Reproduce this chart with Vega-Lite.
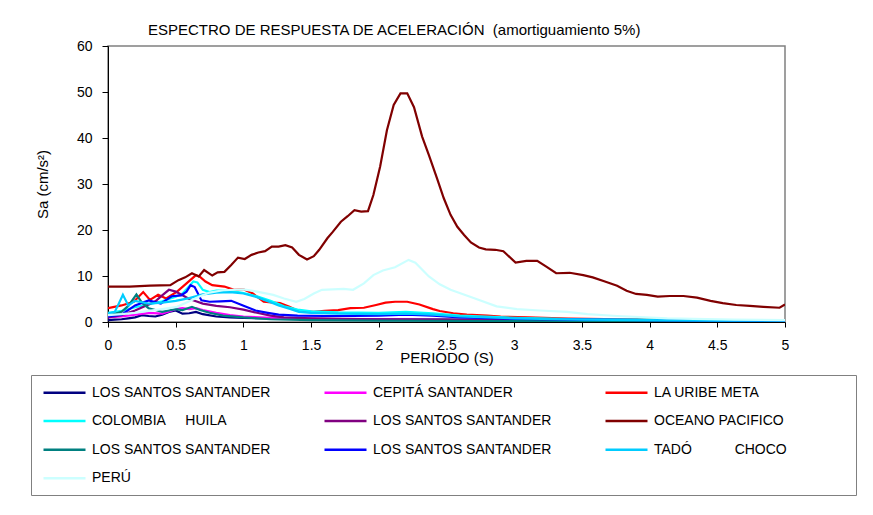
{
"$schema": "https://vega.github.io/schema/vega-lite/v6.json",
"width": 677, "height": 276,
"autosize": {"type": "none"},
"padding": {"left": 108, "top": 46, "right": 88, "bottom": 193},
"background": "white",
"title": {"text": "ESPECTRO DE RESPUESTA DE ACELERACIÓN\u00a0\u00a0(amortiguamiento 5%)", "anchor": "start", "frame": "group", "dx": 40, "offset": 1, "fontSize": 15, "font": "Liberation Sans", "fontWeight": "normal", "color": "black"},
"config": {"view": {"stroke": "#808080", "strokeWidth": 1.5}, "font": "Liberation Sans"},
"data": {"values": [
{"serie":"01 LOS SANTOS SANTANDER","T":0,"Sa":0.4},{"serie":"01 LOS SANTOS SANTANDER","T":0.05,"Sa":0.5},{"serie":"01 LOS SANTOS SANTANDER","T":0.1,"Sa":0.6},{"serie":"01 LOS SANTOS SANTANDER","T":0.15,"Sa":0.8},{"serie":"01 LOS SANTOS SANTANDER","T":0.2,"Sa":1.0},{"serie":"01 LOS SANTOS SANTANDER","T":0.25,"Sa":1.5},{"serie":"01 LOS SANTOS SANTANDER","T":0.3,"Sa":1.3},{"serie":"01 LOS SANTOS SANTANDER","T":0.35,"Sa":1.2},{"serie":"01 LOS SANTOS SANTANDER","T":0.4,"Sa":1.6},{"serie":"01 LOS SANTOS SANTANDER","T":0.45,"Sa":2.2},{"serie":"01 LOS SANTOS SANTANDER","T":0.5,"Sa":2.5},{"serie":"01 LOS SANTOS SANTANDER","T":0.55,"Sa":1.8},{"serie":"01 LOS SANTOS SANTANDER","T":0.6,"Sa":1.9},{"serie":"01 LOS SANTOS SANTANDER","T":0.65,"Sa":2.2},{"serie":"01 LOS SANTOS SANTANDER","T":0.7,"Sa":1.7},{"serie":"01 LOS SANTOS SANTANDER","T":0.8,"Sa":1.2},{"serie":"01 LOS SANTOS SANTANDER","T":0.9,"Sa":1.0},{"serie":"01 LOS SANTOS SANTANDER","T":1.0,"Sa":0.9},{"serie":"01 LOS SANTOS SANTANDER","T":1.2,"Sa":0.8},{"serie":"01 LOS SANTOS SANTANDER","T":1.5,"Sa":0.7},{"serie":"01 LOS SANTOS SANTANDER","T":2.0,"Sa":0.6},{"serie":"01 LOS SANTOS SANTANDER","T":2.5,"Sa":0.5},{"serie":"01 LOS SANTOS SANTANDER","T":3.0,"Sa":0.4},{"serie":"01 LOS SANTOS SANTANDER","T":3.5,"Sa":0.3},{"serie":"01 LOS SANTOS SANTANDER","T":4.0,"Sa":0.25},{"serie":"01 LOS SANTOS SANTANDER","T":4.5,"Sa":0.2},{"serie":"01 LOS SANTOS SANTANDER","T":5.0,"Sa":0.2},
{"serie":"02 CEPITÁ SANTANDER","T":0,"Sa":1.0},{"serie":"02 CEPITÁ SANTANDER","T":0.1,"Sa":1.2},{"serie":"02 CEPITÁ SANTANDER","T":0.2,"Sa":1.6},{"serie":"02 CEPITÁ SANTANDER","T":0.3,"Sa":2.0},{"serie":"02 CEPITÁ SANTANDER","T":0.4,"Sa":1.8},{"serie":"02 CEPITÁ SANTANDER","T":0.45,"Sa":2.3},{"serie":"02 CEPITÁ SANTANDER","T":0.5,"Sa":2.8},{"serie":"02 CEPITÁ SANTANDER","T":0.55,"Sa":3.0},{"serie":"02 CEPITÁ SANTANDER","T":0.6,"Sa":2.8},{"serie":"02 CEPITÁ SANTANDER","T":0.65,"Sa":3.0},{"serie":"02 CEPITÁ SANTANDER","T":0.7,"Sa":2.6},{"serie":"02 CEPITÁ SANTANDER","T":0.8,"Sa":2.0},{"serie":"02 CEPITÁ SANTANDER","T":0.9,"Sa":1.5},{"serie":"02 CEPITÁ SANTANDER","T":1.0,"Sa":1.2},{"serie":"02 CEPITÁ SANTANDER","T":1.2,"Sa":0.9},{"serie":"02 CEPITÁ SANTANDER","T":1.5,"Sa":0.7},{"serie":"02 CEPITÁ SANTANDER","T":2.0,"Sa":0.5},{"serie":"02 CEPITÁ SANTANDER","T":2.5,"Sa":0.4},{"serie":"02 CEPITÁ SANTANDER","T":3.0,"Sa":0.3},{"serie":"02 CEPITÁ SANTANDER","T":4.0,"Sa":0.2},{"serie":"02 CEPITÁ SANTANDER","T":5.0,"Sa":0.15},
{"serie":"03 LA URIBE META","T":0,"Sa":3.0},{"serie":"03 LA URIBE META","T":0.1,"Sa":3.6},{"serie":"03 LA URIBE META","T":0.19,"Sa":4.4},{"serie":"03 LA URIBE META","T":0.26,"Sa":6.5},{"serie":"03 LA URIBE META","T":0.31,"Sa":4.8},{"serie":"03 LA URIBE META","T":0.37,"Sa":5.9},{"serie":"03 LA URIBE META","T":0.43,"Sa":5.1},{"serie":"03 LA URIBE META","T":0.51,"Sa":6.6},{"serie":"03 LA URIBE META","T":0.58,"Sa":8.4},{"serie":"03 LA URIBE META","T":0.65,"Sa":10.2},{"serie":"03 LA URIBE META","T":0.68,"Sa":9.8},{"serie":"03 LA URIBE META","T":0.72,"Sa":8.8},{"serie":"03 LA URIBE META","T":0.77,"Sa":8.0},{"serie":"03 LA URIBE META","T":0.86,"Sa":7.7},{"serie":"03 LA URIBE META","T":0.93,"Sa":7.0},{"serie":"03 LA URIBE META","T":1.0,"Sa":7.1},{"serie":"03 LA URIBE META","T":1.07,"Sa":6.2},{"serie":"03 LA URIBE META","T":1.15,"Sa":4.4},{"serie":"03 LA URIBE META","T":1.27,"Sa":4.1},{"serie":"03 LA URIBE META","T":1.34,"Sa":3.3},{"serie":"03 LA URIBE META","T":1.39,"Sa":2.6},{"serie":"03 LA URIBE META","T":1.45,"Sa":2.3},{"serie":"03 LA URIBE META","T":1.52,"Sa":2.2},{"serie":"03 LA URIBE META","T":1.6,"Sa":2.4},{"serie":"03 LA URIBE META","T":1.7,"Sa":2.6},{"serie":"03 LA URIBE META","T":1.79,"Sa":3.0},{"serie":"03 LA URIBE META","T":1.89,"Sa":3.1},{"serie":"03 LA URIBE META","T":1.98,"Sa":3.7},{"serie":"03 LA URIBE META","T":2.05,"Sa":4.2},{"serie":"03 LA URIBE META","T":2.12,"Sa":4.4},{"serie":"03 LA URIBE META","T":2.21,"Sa":4.4},{"serie":"03 LA URIBE META","T":2.3,"Sa":3.8},{"serie":"03 LA URIBE META","T":2.4,"Sa":2.8},{"serie":"03 LA URIBE META","T":2.45,"Sa":2.4},{"serie":"03 LA URIBE META","T":2.55,"Sa":1.9},{"serie":"03 LA URIBE META","T":2.65,"Sa":1.6},{"serie":"03 LA URIBE META","T":2.8,"Sa":1.4},{"serie":"03 LA URIBE META","T":2.9,"Sa":1.2},{"serie":"03 LA URIBE META","T":3.1,"Sa":1.0},{"serie":"03 LA URIBE META","T":3.4,"Sa":0.75},{"serie":"03 LA URIBE META","T":3.8,"Sa":0.6},{"serie":"03 LA URIBE META","T":4.13,"Sa":0.45},{"serie":"03 LA URIBE META","T":4.5,"Sa":0.4},{"serie":"03 LA URIBE META","T":5.0,"Sa":0.35},
{"serie":"04 COLOMBIA\u00a0\u00a0\u00a0\u00a0\u00a0HUILA","T":0,"Sa":2.0},{"serie":"04 COLOMBIA\u00a0\u00a0\u00a0\u00a0\u00a0HUILA","T":0.1,"Sa":2.4},{"serie":"04 COLOMBIA\u00a0\u00a0\u00a0\u00a0\u00a0HUILA","T":0.2,"Sa":3.2},{"serie":"04 COLOMBIA\u00a0\u00a0\u00a0\u00a0\u00a0HUILA","T":0.3,"Sa":3.8},{"serie":"04 COLOMBIA\u00a0\u00a0\u00a0\u00a0\u00a0HUILA","T":0.4,"Sa":4.5},{"serie":"04 COLOMBIA\u00a0\u00a0\u00a0\u00a0\u00a0HUILA","T":0.5,"Sa":5.5},{"serie":"04 COLOMBIA\u00a0\u00a0\u00a0\u00a0\u00a0HUILA","T":0.55,"Sa":6.2},{"serie":"04 COLOMBIA\u00a0\u00a0\u00a0\u00a0\u00a0HUILA","T":0.6,"Sa":7.8},{"serie":"04 COLOMBIA\u00a0\u00a0\u00a0\u00a0\u00a0HUILA","T":0.63,"Sa":8.8},{"serie":"04 COLOMBIA\u00a0\u00a0\u00a0\u00a0\u00a0HUILA","T":0.66,"Sa":8.6},{"serie":"04 COLOMBIA\u00a0\u00a0\u00a0\u00a0\u00a0HUILA","T":0.7,"Sa":7.0},{"serie":"04 COLOMBIA\u00a0\u00a0\u00a0\u00a0\u00a0HUILA","T":0.75,"Sa":6.5},{"serie":"04 COLOMBIA\u00a0\u00a0\u00a0\u00a0\u00a0HUILA","T":0.8,"Sa":6.8},{"serie":"04 COLOMBIA\u00a0\u00a0\u00a0\u00a0\u00a0HUILA","T":0.9,"Sa":6.8},{"serie":"04 COLOMBIA\u00a0\u00a0\u00a0\u00a0\u00a0HUILA","T":1.0,"Sa":6.3},{"serie":"04 COLOMBIA\u00a0\u00a0\u00a0\u00a0\u00a0HUILA","T":1.1,"Sa":5.6},{"serie":"04 COLOMBIA\u00a0\u00a0\u00a0\u00a0\u00a0HUILA","T":1.2,"Sa":4.6},{"serie":"04 COLOMBIA\u00a0\u00a0\u00a0\u00a0\u00a0HUILA","T":1.3,"Sa":3.4},{"serie":"04 COLOMBIA\u00a0\u00a0\u00a0\u00a0\u00a0HUILA","T":1.4,"Sa":2.7},{"serie":"04 COLOMBIA\u00a0\u00a0\u00a0\u00a0\u00a0HUILA","T":1.5,"Sa":2.3},{"serie":"04 COLOMBIA\u00a0\u00a0\u00a0\u00a0\u00a0HUILA","T":1.7,"Sa":2.1},{"serie":"04 COLOMBIA\u00a0\u00a0\u00a0\u00a0\u00a0HUILA","T":2.0,"Sa":2.0},{"serie":"04 COLOMBIA\u00a0\u00a0\u00a0\u00a0\u00a0HUILA","T":2.2,"Sa":2.2},{"serie":"04 COLOMBIA\u00a0\u00a0\u00a0\u00a0\u00a0HUILA","T":2.4,"Sa":1.9},{"serie":"04 COLOMBIA\u00a0\u00a0\u00a0\u00a0\u00a0HUILA","T":2.6,"Sa":1.4},{"serie":"04 COLOMBIA\u00a0\u00a0\u00a0\u00a0\u00a0HUILA","T":3.0,"Sa":0.9},{"serie":"04 COLOMBIA\u00a0\u00a0\u00a0\u00a0\u00a0HUILA","T":3.5,"Sa":0.6},{"serie":"04 COLOMBIA\u00a0\u00a0\u00a0\u00a0\u00a0HUILA","T":4.0,"Sa":0.5},{"serie":"04 COLOMBIA\u00a0\u00a0\u00a0\u00a0\u00a0HUILA","T":4.5,"Sa":0.4},{"serie":"04 COLOMBIA\u00a0\u00a0\u00a0\u00a0\u00a0HUILA","T":5.0,"Sa":0.35},
{"serie":"05 LOS SANTOS SANTANDER","T":0,"Sa":1.0},{"serie":"05 LOS SANTOS SANTANDER","T":0.1,"Sa":1.5},{"serie":"05 LOS SANTOS SANTANDER","T":0.2,"Sa":2.5},{"serie":"05 LOS SANTOS SANTANDER","T":0.3,"Sa":3.8},{"serie":"05 LOS SANTOS SANTANDER","T":0.35,"Sa":4.5},{"serie":"05 LOS SANTOS SANTANDER","T":0.4,"Sa":5.8},{"serie":"05 LOS SANTOS SANTANDER","T":0.45,"Sa":7.0},{"serie":"05 LOS SANTOS SANTANDER","T":0.5,"Sa":6.6},{"serie":"05 LOS SANTOS SANTANDER","T":0.55,"Sa":5.8},{"serie":"05 LOS SANTOS SANTANDER","T":0.6,"Sa":5.0},{"serie":"05 LOS SANTOS SANTANDER","T":0.65,"Sa":4.5},{"serie":"05 LOS SANTOS SANTANDER","T":0.7,"Sa":4.0},{"serie":"05 LOS SANTOS SANTANDER","T":0.8,"Sa":3.5},{"serie":"05 LOS SANTOS SANTANDER","T":0.9,"Sa":3.2},{"serie":"05 LOS SANTOS SANTANDER","T":1.0,"Sa":2.7},{"serie":"05 LOS SANTOS SANTANDER","T":1.1,"Sa":2.0},{"serie":"05 LOS SANTOS SANTANDER","T":1.2,"Sa":1.4},{"serie":"05 LOS SANTOS SANTANDER","T":1.3,"Sa":1.0},{"serie":"05 LOS SANTOS SANTANDER","T":1.5,"Sa":0.8},{"serie":"05 LOS SANTOS SANTANDER","T":2.0,"Sa":0.6},{"serie":"05 LOS SANTOS SANTANDER","T":2.5,"Sa":0.5},{"serie":"05 LOS SANTOS SANTANDER","T":3.0,"Sa":0.35},{"serie":"05 LOS SANTOS SANTANDER","T":4.0,"Sa":0.25},{"serie":"05 LOS SANTOS SANTANDER","T":5.0,"Sa":0.2},
{"serie":"06 OCEANO PACIFICO","T":0,"Sa":7.7},{"serie":"06 OCEANO PACIFICO","T":0.16,"Sa":7.7},{"serie":"06 OCEANO PACIFICO","T":0.31,"Sa":7.9},{"serie":"06 OCEANO PACIFICO","T":0.46,"Sa":8.0},{"serie":"06 OCEANO PACIFICO","T":0.52,"Sa":9.1},{"serie":"06 OCEANO PACIFICO","T":0.57,"Sa":9.7},{"serie":"06 OCEANO PACIFICO","T":0.62,"Sa":10.6},{"serie":"06 OCEANO PACIFICO","T":0.67,"Sa":9.9},{"serie":"06 OCEANO PACIFICO","T":0.71,"Sa":11.3},{"serie":"06 OCEANO PACIFICO","T":0.77,"Sa":10.1},{"serie":"06 OCEANO PACIFICO","T":0.81,"Sa":10.8},{"serie":"06 OCEANO PACIFICO","T":0.86,"Sa":10.9},{"serie":"06 OCEANO PACIFICO","T":0.91,"Sa":12.4},{"serie":"06 OCEANO PACIFICO","T":0.96,"Sa":14.0},{"serie":"06 OCEANO PACIFICO","T":1.01,"Sa":13.7},{"serie":"06 OCEANO PACIFICO","T":1.06,"Sa":14.6},{"serie":"06 OCEANO PACIFICO","T":1.11,"Sa":15.1},{"serie":"06 OCEANO PACIFICO","T":1.16,"Sa":15.4},{"serie":"06 OCEANO PACIFICO","T":1.21,"Sa":16.4},{"serie":"06 OCEANO PACIFICO","T":1.26,"Sa":16.4},{"serie":"06 OCEANO PACIFICO","T":1.31,"Sa":16.7},{"serie":"06 OCEANO PACIFICO","T":1.36,"Sa":16.2},{"serie":"06 OCEANO PACIFICO","T":1.41,"Sa":14.6},{"serie":"06 OCEANO PACIFICO","T":1.47,"Sa":13.6},{"serie":"06 OCEANO PACIFICO","T":1.52,"Sa":14.3},{"serie":"06 OCEANO PACIFICO","T":1.56,"Sa":15.7},{"serie":"06 OCEANO PACIFICO","T":1.62,"Sa":18.2},{"serie":"06 OCEANO PACIFICO","T":1.66,"Sa":19.6},{"serie":"06 OCEANO PACIFICO","T":1.72,"Sa":21.8},{"serie":"06 OCEANO PACIFICO","T":1.77,"Sa":23.0},{"serie":"06 OCEANO PACIFICO","T":1.82,"Sa":24.3},{"serie":"06 OCEANO PACIFICO","T":1.87,"Sa":24.0},{"serie":"06 OCEANO PACIFICO","T":1.92,"Sa":24.1},{"serie":"06 OCEANO PACIFICO","T":1.96,"Sa":27.6},{"serie":"06 OCEANO PACIFICO","T":2.01,"Sa":33.8},{"serie":"06 OCEANO PACIFICO","T":2.06,"Sa":41.7},{"serie":"06 OCEANO PACIFICO","T":2.11,"Sa":47.2},{"serie":"06 OCEANO PACIFICO","T":2.16,"Sa":49.7},{"serie":"06 OCEANO PACIFICO","T":2.21,"Sa":49.7},{"serie":"06 OCEANO PACIFICO","T":2.26,"Sa":46.7},{"serie":"06 OCEANO PACIFICO","T":2.32,"Sa":40.3},{"serie":"06 OCEANO PACIFICO","T":2.37,"Sa":36.3},{"serie":"06 OCEANO PACIFICO","T":2.43,"Sa":31.2},{"serie":"06 OCEANO PACIFICO","T":2.48,"Sa":26.9},{"serie":"06 OCEANO PACIFICO","T":2.53,"Sa":23.3},{"serie":"06 OCEANO PACIFICO","T":2.58,"Sa":20.7},{"serie":"06 OCEANO PACIFICO","T":2.63,"Sa":18.9},{"serie":"06 OCEANO PACIFICO","T":2.68,"Sa":17.3},{"serie":"06 OCEANO PACIFICO","T":2.74,"Sa":16.2},{"serie":"06 OCEANO PACIFICO","T":2.79,"Sa":15.8},{"serie":"06 OCEANO PACIFICO","T":2.86,"Sa":15.7},{"serie":"06 OCEANO PACIFICO","T":2.92,"Sa":15.4},{"serie":"06 OCEANO PACIFICO","T":3.01,"Sa":12.9},{"serie":"06 OCEANO PACIFICO","T":3.09,"Sa":13.3},{"serie":"06 OCEANO PACIFICO","T":3.17,"Sa":13.3},{"serie":"06 OCEANO PACIFICO","T":3.24,"Sa":12.0},{"serie":"06 OCEANO PACIFICO","T":3.31,"Sa":10.6},{"serie":"06 OCEANO PACIFICO","T":3.41,"Sa":10.7},{"serie":"06 OCEANO PACIFICO","T":3.51,"Sa":10.2},{"serie":"06 OCEANO PACIFICO","T":3.58,"Sa":9.7},{"serie":"06 OCEANO PACIFICO","T":3.67,"Sa":8.8},{"serie":"06 OCEANO PACIFICO","T":3.76,"Sa":7.9},{"serie":"06 OCEANO PACIFICO","T":3.83,"Sa":6.8},{"serie":"06 OCEANO PACIFICO","T":3.9,"Sa":6.1},{"serie":"06 OCEANO PACIFICO","T":3.98,"Sa":5.9},{"serie":"06 OCEANO PACIFICO","T":4.06,"Sa":5.5},{"serie":"06 OCEANO PACIFICO","T":4.15,"Sa":5.65},{"serie":"06 OCEANO PACIFICO","T":4.25,"Sa":5.65},{"serie":"06 OCEANO PACIFICO","T":4.35,"Sa":5.3},{"serie":"06 OCEANO PACIFICO","T":4.45,"Sa":4.6},{"serie":"06 OCEANO PACIFICO","T":4.54,"Sa":4.1},{"serie":"06 OCEANO PACIFICO","T":4.64,"Sa":3.7},{"serie":"06 OCEANO PACIFICO","T":4.74,"Sa":3.5},{"serie":"06 OCEANO PACIFICO","T":4.84,"Sa":3.3},{"serie":"06 OCEANO PACIFICO","T":4.96,"Sa":3.1},{"serie":"06 OCEANO PACIFICO","T":5.0,"Sa":3.8},
{"serie":"07 LOS SANTOS SANTANDER","T":0,"Sa":1.5},{"serie":"07 LOS SANTOS SANTANDER","T":0.05,"Sa":1.8},{"serie":"07 LOS SANTOS SANTANDER","T":0.1,"Sa":2.2},{"serie":"07 LOS SANTOS SANTANDER","T":0.15,"Sa":3.5},{"serie":"07 LOS SANTOS SANTANDER","T":0.21,"Sa":6.0},{"serie":"07 LOS SANTOS SANTANDER","T":0.25,"Sa":4.2},{"serie":"07 LOS SANTOS SANTANDER","T":0.3,"Sa":3.0},{"serie":"07 LOS SANTOS SANTANDER","T":0.35,"Sa":2.6},{"serie":"07 LOS SANTOS SANTANDER","T":0.4,"Sa":2.2},{"serie":"07 LOS SANTOS SANTANDER","T":0.45,"Sa":2.5},{"serie":"07 LOS SANTOS SANTANDER","T":0.5,"Sa":2.8},{"serie":"07 LOS SANTOS SANTANDER","T":0.55,"Sa":2.6},{"serie":"07 LOS SANTOS SANTANDER","T":0.62,"Sa":3.3},{"serie":"07 LOS SANTOS SANTANDER","T":0.68,"Sa":2.6},{"serie":"07 LOS SANTOS SANTANDER","T":0.75,"Sa":2.0},{"serie":"07 LOS SANTOS SANTANDER","T":0.85,"Sa":1.4},{"serie":"07 LOS SANTOS SANTANDER","T":1.0,"Sa":1.0},{"serie":"07 LOS SANTOS SANTANDER","T":1.2,"Sa":0.6},{"serie":"07 LOS SANTOS SANTANDER","T":1.5,"Sa":0.4},{"serie":"07 LOS SANTOS SANTANDER","T":2.0,"Sa":0.3},{"serie":"07 LOS SANTOS SANTANDER","T":3.0,"Sa":0.2},{"serie":"07 LOS SANTOS SANTANDER","T":4.0,"Sa":0.15},{"serie":"07 LOS SANTOS SANTANDER","T":5.0,"Sa":0.1},
{"serie":"08 LOS SANTOS SANTANDER","T":0,"Sa":1.2},{"serie":"08 LOS SANTOS SANTANDER","T":0.1,"Sa":1.6},{"serie":"08 LOS SANTOS SANTANDER","T":0.2,"Sa":3.6},{"serie":"08 LOS SANTOS SANTANDER","T":0.3,"Sa":4.7},{"serie":"08 LOS SANTOS SANTANDER","T":0.39,"Sa":4.0},{"serie":"08 LOS SANTOS SANTANDER","T":0.47,"Sa":5.6},{"serie":"08 LOS SANTOS SANTANDER","T":0.54,"Sa":5.8},{"serie":"08 LOS SANTOS SANTANDER","T":0.58,"Sa":6.6},{"serie":"08 LOS SANTOS SANTANDER","T":0.61,"Sa":8.0},{"serie":"08 LOS SANTOS SANTANDER","T":0.64,"Sa":7.6},{"serie":"08 LOS SANTOS SANTANDER","T":0.69,"Sa":4.7},{"serie":"08 LOS SANTOS SANTANDER","T":0.75,"Sa":4.4},{"serie":"08 LOS SANTOS SANTANDER","T":0.83,"Sa":4.5},{"serie":"08 LOS SANTOS SANTANDER","T":0.91,"Sa":4.6},{"serie":"08 LOS SANTOS SANTANDER","T":1.02,"Sa":3.3},{"serie":"08 LOS SANTOS SANTANDER","T":1.09,"Sa":2.5},{"serie":"08 LOS SANTOS SANTANDER","T":1.18,"Sa":2.0},{"serie":"08 LOS SANTOS SANTANDER","T":1.26,"Sa":1.6},{"serie":"08 LOS SANTOS SANTANDER","T":1.4,"Sa":1.4},{"serie":"08 LOS SANTOS SANTANDER","T":1.6,"Sa":1.3},{"serie":"08 LOS SANTOS SANTANDER","T":1.8,"Sa":1.3},{"serie":"08 LOS SANTOS SANTANDER","T":2.0,"Sa":1.4},{"serie":"08 LOS SANTOS SANTANDER","T":2.2,"Sa":1.6},{"serie":"08 LOS SANTOS SANTANDER","T":2.4,"Sa":1.4},{"serie":"08 LOS SANTOS SANTANDER","T":2.6,"Sa":1.0},{"serie":"08 LOS SANTOS SANTANDER","T":3.0,"Sa":0.7},{"serie":"08 LOS SANTOS SANTANDER","T":3.5,"Sa":0.5},{"serie":"08 LOS SANTOS SANTANDER","T":4.0,"Sa":0.4},{"serie":"08 LOS SANTOS SANTANDER","T":4.5,"Sa":0.3},{"serie":"08 LOS SANTOS SANTANDER","T":5.0,"Sa":0.25},
{"serie":"09 TADÓ\u00a0\u00a0\u00a0\u00a0\u00a0\u00a0\u00a0\u00a0\u00a0\u00a0\u00a0CHOCO","T":0,"Sa":1.8},{"serie":"09 TADÓ\u00a0\u00a0\u00a0\u00a0\u00a0\u00a0\u00a0\u00a0\u00a0\u00a0\u00a0CHOCO","T":0.05,"Sa":2.2},{"serie":"09 TADÓ\u00a0\u00a0\u00a0\u00a0\u00a0\u00a0\u00a0\u00a0\u00a0\u00a0\u00a0CHOCO","T":0.08,"Sa":4.0},{"serie":"09 TADÓ\u00a0\u00a0\u00a0\u00a0\u00a0\u00a0\u00a0\u00a0\u00a0\u00a0\u00a0CHOCO","T":0.11,"Sa":5.9},{"serie":"09 TADÓ\u00a0\u00a0\u00a0\u00a0\u00a0\u00a0\u00a0\u00a0\u00a0\u00a0\u00a0CHOCO","T":0.15,"Sa":3.6},{"serie":"09 TADÓ\u00a0\u00a0\u00a0\u00a0\u00a0\u00a0\u00a0\u00a0\u00a0\u00a0\u00a0CHOCO","T":0.2,"Sa":4.6},{"serie":"09 TADÓ\u00a0\u00a0\u00a0\u00a0\u00a0\u00a0\u00a0\u00a0\u00a0\u00a0\u00a0CHOCO","T":0.25,"Sa":4.3},{"serie":"09 TADÓ\u00a0\u00a0\u00a0\u00a0\u00a0\u00a0\u00a0\u00a0\u00a0\u00a0\u00a0CHOCO","T":0.3,"Sa":4.0},{"serie":"09 TADÓ\u00a0\u00a0\u00a0\u00a0\u00a0\u00a0\u00a0\u00a0\u00a0\u00a0\u00a0CHOCO","T":0.4,"Sa":4.2},{"serie":"09 TADÓ\u00a0\u00a0\u00a0\u00a0\u00a0\u00a0\u00a0\u00a0\u00a0\u00a0\u00a0CHOCO","T":0.5,"Sa":4.6},{"serie":"09 TADÓ\u00a0\u00a0\u00a0\u00a0\u00a0\u00a0\u00a0\u00a0\u00a0\u00a0\u00a0CHOCO","T":0.6,"Sa":5.2},{"serie":"09 TADÓ\u00a0\u00a0\u00a0\u00a0\u00a0\u00a0\u00a0\u00a0\u00a0\u00a0\u00a0CHOCO","T":0.7,"Sa":6.0},{"serie":"09 TADÓ\u00a0\u00a0\u00a0\u00a0\u00a0\u00a0\u00a0\u00a0\u00a0\u00a0\u00a0CHOCO","T":0.8,"Sa":6.4},{"serie":"09 TADÓ\u00a0\u00a0\u00a0\u00a0\u00a0\u00a0\u00a0\u00a0\u00a0\u00a0\u00a0CHOCO","T":0.9,"Sa":6.5},{"serie":"09 TADÓ\u00a0\u00a0\u00a0\u00a0\u00a0\u00a0\u00a0\u00a0\u00a0\u00a0\u00a0CHOCO","T":1.0,"Sa":6.2},{"serie":"09 TADÓ\u00a0\u00a0\u00a0\u00a0\u00a0\u00a0\u00a0\u00a0\u00a0\u00a0\u00a0CHOCO","T":1.1,"Sa":5.4},{"serie":"09 TADÓ\u00a0\u00a0\u00a0\u00a0\u00a0\u00a0\u00a0\u00a0\u00a0\u00a0\u00a0CHOCO","T":1.2,"Sa":4.3},{"serie":"09 TADÓ\u00a0\u00a0\u00a0\u00a0\u00a0\u00a0\u00a0\u00a0\u00a0\u00a0\u00a0CHOCO","T":1.26,"Sa":3.6},{"serie":"09 TADÓ\u00a0\u00a0\u00a0\u00a0\u00a0\u00a0\u00a0\u00a0\u00a0\u00a0\u00a0CHOCO","T":1.35,"Sa":2.8},{"serie":"09 TADÓ\u00a0\u00a0\u00a0\u00a0\u00a0\u00a0\u00a0\u00a0\u00a0\u00a0\u00a0CHOCO","T":1.41,"Sa":2.2},{"serie":"09 TADÓ\u00a0\u00a0\u00a0\u00a0\u00a0\u00a0\u00a0\u00a0\u00a0\u00a0\u00a0CHOCO","T":1.5,"Sa":2.0},{"serie":"09 TADÓ\u00a0\u00a0\u00a0\u00a0\u00a0\u00a0\u00a0\u00a0\u00a0\u00a0\u00a0CHOCO","T":1.7,"Sa":1.8},{"serie":"09 TADÓ\u00a0\u00a0\u00a0\u00a0\u00a0\u00a0\u00a0\u00a0\u00a0\u00a0\u00a0CHOCO","T":2.0,"Sa":1.7},{"serie":"09 TADÓ\u00a0\u00a0\u00a0\u00a0\u00a0\u00a0\u00a0\u00a0\u00a0\u00a0\u00a0CHOCO","T":2.2,"Sa":1.8},{"serie":"09 TADÓ\u00a0\u00a0\u00a0\u00a0\u00a0\u00a0\u00a0\u00a0\u00a0\u00a0\u00a0CHOCO","T":2.4,"Sa":1.6},{"serie":"09 TADÓ\u00a0\u00a0\u00a0\u00a0\u00a0\u00a0\u00a0\u00a0\u00a0\u00a0\u00a0CHOCO","T":2.6,"Sa":1.2},{"serie":"09 TADÓ\u00a0\u00a0\u00a0\u00a0\u00a0\u00a0\u00a0\u00a0\u00a0\u00a0\u00a0CHOCO","T":3.0,"Sa":0.8},{"serie":"09 TADÓ\u00a0\u00a0\u00a0\u00a0\u00a0\u00a0\u00a0\u00a0\u00a0\u00a0\u00a0CHOCO","T":3.5,"Sa":0.5},{"serie":"09 TADÓ\u00a0\u00a0\u00a0\u00a0\u00a0\u00a0\u00a0\u00a0\u00a0\u00a0\u00a0CHOCO","T":4.0,"Sa":0.4},{"serie":"09 TADÓ\u00a0\u00a0\u00a0\u00a0\u00a0\u00a0\u00a0\u00a0\u00a0\u00a0\u00a0CHOCO","T":4.5,"Sa":0.3},{"serie":"09 TADÓ\u00a0\u00a0\u00a0\u00a0\u00a0\u00a0\u00a0\u00a0\u00a0\u00a0\u00a0CHOCO","T":5.0,"Sa":0.3},
{"serie":"10 PERÚ","T":0,"Sa":1.5},{"serie":"10 PERÚ","T":0.1,"Sa":1.7},{"serie":"10 PERÚ","T":0.2,"Sa":2.0},{"serie":"10 PERÚ","T":0.3,"Sa":2.4},{"serie":"10 PERÚ","T":0.4,"Sa":2.8},{"serie":"10 PERÚ","T":0.51,"Sa":3.3},{"serie":"10 PERÚ","T":0.6,"Sa":4.5},{"serie":"10 PERÚ","T":0.68,"Sa":5.6},{"serie":"10 PERÚ","T":0.75,"Sa":6.4},{"serie":"10 PERÚ","T":0.85,"Sa":6.9},{"serie":"10 PERÚ","T":1.0,"Sa":7.1},{"serie":"10 PERÚ","T":1.1,"Sa":6.6},{"serie":"10 PERÚ","T":1.22,"Sa":5.9},{"serie":"10 PERÚ","T":1.3,"Sa":5.1},{"serie":"10 PERÚ","T":1.39,"Sa":4.4},{"serie":"10 PERÚ","T":1.45,"Sa":5.0},{"serie":"10 PERÚ","T":1.52,"Sa":6.2},{"serie":"10 PERÚ","T":1.58,"Sa":7.0},{"serie":"10 PERÚ","T":1.66,"Sa":7.1},{"serie":"10 PERÚ","T":1.74,"Sa":7.2},{"serie":"10 PERÚ","T":1.81,"Sa":7.0},{"serie":"10 PERÚ","T":1.89,"Sa":8.4},{"serie":"10 PERÚ","T":1.96,"Sa":10.2},{"serie":"10 PERÚ","T":2.03,"Sa":11.2},{"serie":"10 PERÚ","T":2.12,"Sa":11.9},{"serie":"10 PERÚ","T":2.22,"Sa":13.5},{"serie":"10 PERÚ","T":2.27,"Sa":12.9},{"serie":"10 PERÚ","T":2.37,"Sa":9.9},{"serie":"10 PERÚ","T":2.45,"Sa":8.2},{"serie":"10 PERÚ","T":2.53,"Sa":7.0},{"serie":"10 PERÚ","T":2.7,"Sa":5.2},{"serie":"10 PERÚ","T":2.87,"Sa":3.4},{"serie":"10 PERÚ","T":3.02,"Sa":2.8},{"serie":"10 PERÚ","T":3.19,"Sa":2.5},{"serie":"10 PERÚ","T":3.39,"Sa":2.2},{"serie":"10 PERÚ","T":3.54,"Sa":1.7},{"serie":"10 PERÚ","T":3.76,"Sa":1.3},{"serie":"10 PERÚ","T":4.13,"Sa":0.8},{"serie":"10 PERÚ","T":4.62,"Sa":0.5},{"serie":"10 PERÚ","T":5.0,"Sa":0.4}
]},
"mark": {"type": "line", "strokeWidth": 2.2, "clip": true},
"encoding": {
"x": {"field": "T", "type": "quantitative", "scale": {"domain": [0, 5], "nice": false, "zero": false},
 "axis": {"values": [0, 0.5, 1, 1.5, 2, 2.5, 3, 3.5, 4, 4.5, 5], "format": "~g", "title": "PERIODO (S)", "grid": false, "domainColor": "black", "tickColor": "black", "tickSize": 5, "labelFontSize": 14, "labelFont": "Liberation Sans", "labelColor": "black", "labelPadding": 11, "labelFlush": false, "titleFontSize": 15, "titleFont": "Liberation Sans", "titleFontWeight": "normal", "titleColor": "black", "titlePadding": -2}},
"y": {"field": "Sa", "type": "quantitative", "scale": {"domain": [0, 60], "nice": false},
 "axis": {"values": [0, 10, 20, 30, 40, 50, 60], "title": "Sa (cm/s²)", "grid": false, "domainColor": "black", "tickColor": "black", "tickSize": 6, "labelFontSize": 14, "labelFont": "Liberation Sans", "labelColor": "black", "labelPadding": 10, "labelFlush": false, "titleFontSize": 15, "titleFont": "Liberation Sans", "titleFontWeight": "normal", "titleColor": "black", "titlePadding": 26}},
"color": {"field": "serie", "type": "nominal",
 "scale": {"domain": ["01 LOS SANTOS SANTANDER", "02 CEPITÁ SANTANDER", "03 LA URIBE META", "04 COLOMBIA\u00a0\u00a0\u00a0\u00a0\u00a0HUILA", "05 LOS SANTOS SANTANDER", "06 OCEANO PACIFICO", "07 LOS SANTOS SANTANDER", "08 LOS SANTOS SANTANDER", "09 TADÓ\u00a0\u00a0\u00a0\u00a0\u00a0\u00a0\u00a0\u00a0\u00a0\u00a0\u00a0CHOCO", "10 PERÚ"],
  "range": ["#000080", "#FF00FF", "#FF0000", "#00FFFF", "#800080", "#800000", "#008080", "#0000FF", "#00CCFF", "#CCFFFF"]},
 "legend": {"orient": "none", "legendX": -77, "legendY": 329, "direction": "horizontal", "columns": 3, "gridAlign": "all", "title": "\u00a0", "titleOrient": "right", "titlePadding": 60, "titleFontSize": 10, "symbolType": "M-3,0H3", "symbolSize": 196, "symbolStrokeWidth": 2.5, "symbolOffset": 16, "labelFontSize": 14, "labelFont": "Liberation Sans", "labelColor": "black", "labelOffset": 19, "labelLimit": 400, "columnPadding": 48, "rowPadding": 12.6, "padding": 9, "strokeColor": "#808080", "fillColor": "white", "labelExpr": "substring(datum.label, 3)"}}
}
}
